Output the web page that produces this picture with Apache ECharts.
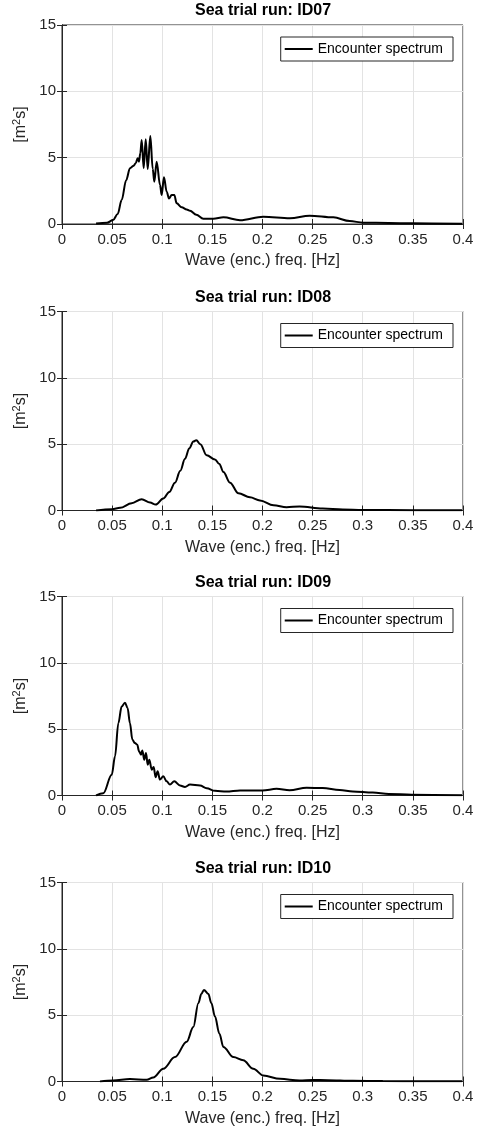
<!DOCTYPE html>
<html>
<head>
<meta charset="utf-8">
<script src="https://cdn.jsdelivr.net/npm/echarts@6/dist/echarts.min.js"></script>
<style>
  html, body { margin: 0; padding: 0; background: #fff; }
  #main { width: 479px; height: 1133px; }
</style>
</head>
<body>
<div id="main"></div>
<script>
// run names
const runs = ['ID07', 'ID08', 'ID09', 'ID10'];
const xTicks = [0, 0.05, 0.1, 0.15, 0.2, 0.25, 0.3, 0.35, 0.4];
const yTicks = [0, 5, 10, 15];

// ID07 - encounter spectrum
const id07Freq = [0.034, 0.045, 0.051, 0.0555, 0.0595, 0.064, 0.0678, 0.0711, 0.0735, 0.0755, 0.0768, 0.0781, 0.0795, 0.0815, 0.0835, 0.0855, 0.0881, 0.0905, 0.0921, 0.0944, 0.0978, 0.0994, 0.1017, 0.1044, 0.1067, 0.1094, 0.112, 0.1144, 0.1194, 0.1244, 0.1277, 0.134, 0.141, 0.151, 0.161, 0.1776, 0.2008, 0.2274, 0.247, 0.2707, 0.287, 0.3005, 0.326, 0.349, 0.399];
const id07Val = [0.03, 0.1, 0.3, 0.75, 1.8, 3.3, 4.2, 4.37, 4.57, 4.95, 4.7, 5.33, 6.33, 4.2, 6.38, 4.15, 6.63, 4.15, 3.19, 4.7, 2.94, 2.19, 3.52, 2.44, 1.93, 2.18, 2.18, 1.56, 1.26, 1.1, 1.0, 0.7, 0.4, 0.4, 0.5, 0.28, 0.55, 0.43, 0.63, 0.5, 0.22, 0.1, 0.08, 0.05, 0.02];

// ID08
const id08Freq = [0.034, 0.05, 0.0579, 0.0695, 0.0795, 0.0878, 0.0935, 0.101, 0.107, 0.1127, 0.118, 0.1227, 0.127, 0.131, 0.134, 0.138, 0.1443, 0.1526, 0.157, 0.161, 0.1676, 0.176, 0.1875, 0.1975, 0.211, 0.224, 0.237, 0.26, 0.28, 0.3, 0.35, 0.399];
const id08Val = [0.0, 0.1, 0.2, 0.55, 0.85, 0.6, 0.45, 0.9, 1.4, 2.1, 3.0, 3.9, 4.7, 5.2, 5.3, 5.0, 4.16, 3.85, 3.5, 2.9, 2.1, 1.3, 1.0, 0.76, 0.4, 0.25, 0.3, 0.15, 0.08, 0.04, 0.02, 0.01];

// ID09
const id09Freq = [0.034, 0.0412, 0.0496, 0.0529, 0.0562, 0.0595, 0.0628, 0.0654, 0.0678, 0.0702, 0.0728, 0.0751, 0.0768, 0.0788, 0.0801, 0.0821, 0.0838, 0.0855, 0.0871, 0.0895, 0.0914, 0.0934, 0.0954, 0.0977, 0.101, 0.1044, 0.1077, 0.112, 0.1177, 0.1227, 0.1277, 0.1377, 0.1443, 0.1526, 0.164, 0.1776, 0.2, 0.214, 0.227, 0.244, 0.26, 0.277, 0.29, 0.31, 0.326, 0.349, 0.399];
const id09Val = [0.0, 0.17, 1.56, 2.95, 5.45, 6.7, 7.0, 6.6, 5.45, 4.2, 3.95, 3.83, 3.33, 3.08, 3.4, 2.7, 3.2, 2.32, 2.7, 1.95, 2.15, 1.38, 1.82, 1.2, 1.45, 1.07, 0.82, 1.07, 0.75, 0.65, 0.82, 0.75, 0.55, 0.35, 0.3, 0.38, 0.38, 0.5, 0.4, 0.58, 0.56, 0.42, 0.3, 0.22, 0.12, 0.05, 0.01];

// ID10
const id10Freq = [0.0379, 0.051, 0.0678, 0.0845, 0.091, 0.101, 0.1127, 0.1244, 0.131, 0.136, 0.139, 0.1416, 0.146, 0.149, 0.1526, 0.157, 0.161, 0.1709, 0.1808, 0.1908, 0.2008, 0.2175, 0.237, 0.25, 0.265, 0.29, 0.32, 0.36, 0.399];
const id10Val = [0.0, 0.07, 0.18, 0.13, 0.3, 0.96, 1.84, 3.0, 4.1, 5.9, 6.6, 6.9, 6.6, 5.9, 4.9, 3.6, 2.6, 1.84, 1.6, 0.96, 0.45, 0.2, 0.08, 0.12, 0.1, 0.05, 0.03, 0.02, 0.01];

const allFreq = [id07Freq, id08Freq, id09Freq, id10Freq];
const allVal = [id07Val, id08Val, id09Val, id10Val];

const FONT = '"Liberation Sans", Arial, Helvetica, sans-serif';
const axisCol = '#262626';
const gridTops = [25, 311.5, 596.5, 882.5];
const plotH = 199;

let chart = echarts.init(document.getElementById('main'), null, { renderer: 'canvas' });

let grid = [], xAxis = [], yAxis = [], title = [], legend = [], series = [];

gridTops.forEach(function (top, i) {
  grid.push({
    left: 62, top: top, width: 401, height: plotH,
    show: true, borderColor: axisCol, borderWidth: 1, backgroundColor: '#fff'
  });

  title.push({
    text: 'Sea trial run: ' + runs[i],
    left: 263, top: top - 22, textAlign: 'center', padding: 0,
    textStyle: { fontFamily: FONT, fontSize: 16, fontWeight: 'bold', color: '#000' }
  });

  legend.push({
    data: ['Encounter spectrum'],
    right: 26, top: top + 12,
    orient: 'vertical',
    borderColor: axisCol, borderWidth: 1, backgroundColor: '#fff',
    padding: [4, 10, 4, 4],
    itemWidth: 28, itemHeight: 2, itemGap: 0,
    icon: 'rect',
    selectedMode: false,
    textStyle: { fontFamily: FONT, fontSize: 14, lineHeight: 16, color: '#000' }
  });

  // bottom x axis
  xAxis.push({
    type: 'value', gridIndex: i, min: 0, max: 0.4, interval: 0.05,
    name: 'Wave (enc.) freq. [Hz]', nameLocation: 'middle', nameGap: 29,
    nameTextStyle: { fontFamily: FONT, fontSize: 16, color: axisCol },
    axisLine: { show: true, lineStyle: { color: axisCol } },
    axisTick: { show: true, inside: true, length: 5, lineStyle: { color: axisCol } },
    axisLabel: {
      fontFamily: FONT, fontSize: 15, color: axisCol, margin: 8,
      formatter: function (v) { return String(+v.toFixed(2)); }
    },
    splitLine: { show: true, lineStyle: { color: '#e3e3e3' } }
  });
  // top x axis (ticks only)
  xAxis.push({
    type: 'value', gridIndex: i, min: 0, max: 0.4, interval: 0.05, position: 'top',
    axisLine: { show: true, lineStyle: { color: axisCol } },
    axisTick: { show: true, inside: true, length: 5, lineStyle: { color: axisCol } },
    axisLabel: { show: false }, splitLine: { show: false }
  });

  yAxis.push({
    type: 'value', gridIndex: i, min: 0, max: 15, interval: 5,
    name: '[m{sup|2}s]', nameLocation: 'middle', nameGap: 27, nameRotate: 90,
    nameTextStyle: {
      fontFamily: FONT, fontSize: 16, color: axisCol,
      rich: { sup: { fontFamily: FONT, fontSize: 11, color: axisCol, verticalAlign: 'top', padding: [0, 0, 7, 0] } }
    },
    axisLine: { show: true, lineStyle: { color: axisCol } },
    // negative length points the ticks into the plot
    axisTick: { show: true, inside: false, length: -5, lineStyle: { color: axisCol } },
    axisLabel: { fontFamily: FONT, fontSize: 15, color: axisCol, margin: 6 },
    splitLine: { show: true, lineStyle: { color: '#e3e3e3' } }
  });
  yAxis.push({
    type: 'value', gridIndex: i, min: 0, max: 15, interval: 5, position: 'right',
    axisLine: { show: true, lineStyle: { color: axisCol } },
    axisTick: { show: true, inside: true, length: 5, lineStyle: { color: axisCol } },
    axisLabel: { show: false }, splitLine: { show: false }
  });

  let pts = allFreq[i].map(function (f, k) { return [f, allVal[i][k]]; });
  series.push({
    name: 'Encounter spectrum',
    type: 'line',
    xAxisIndex: i * 2, yAxisIndex: i * 2,
    data: pts,
    showSymbol: false,
    smooth: 0.35,
    smoothMonotone: 'x',
    lineStyle: { color: '#000', width: 2 },
    itemStyle: { color: '#000' },
    animation: false
  });
});

let option = {
  backgroundColor: '#fff',
  animation: false,
  title: title,
  legend: legend,
  grid: grid,
  xAxis: xAxis,
  yAxis: yAxis,
  series: series
};

chart.setOption(option);
</script>
</body>
</html>
